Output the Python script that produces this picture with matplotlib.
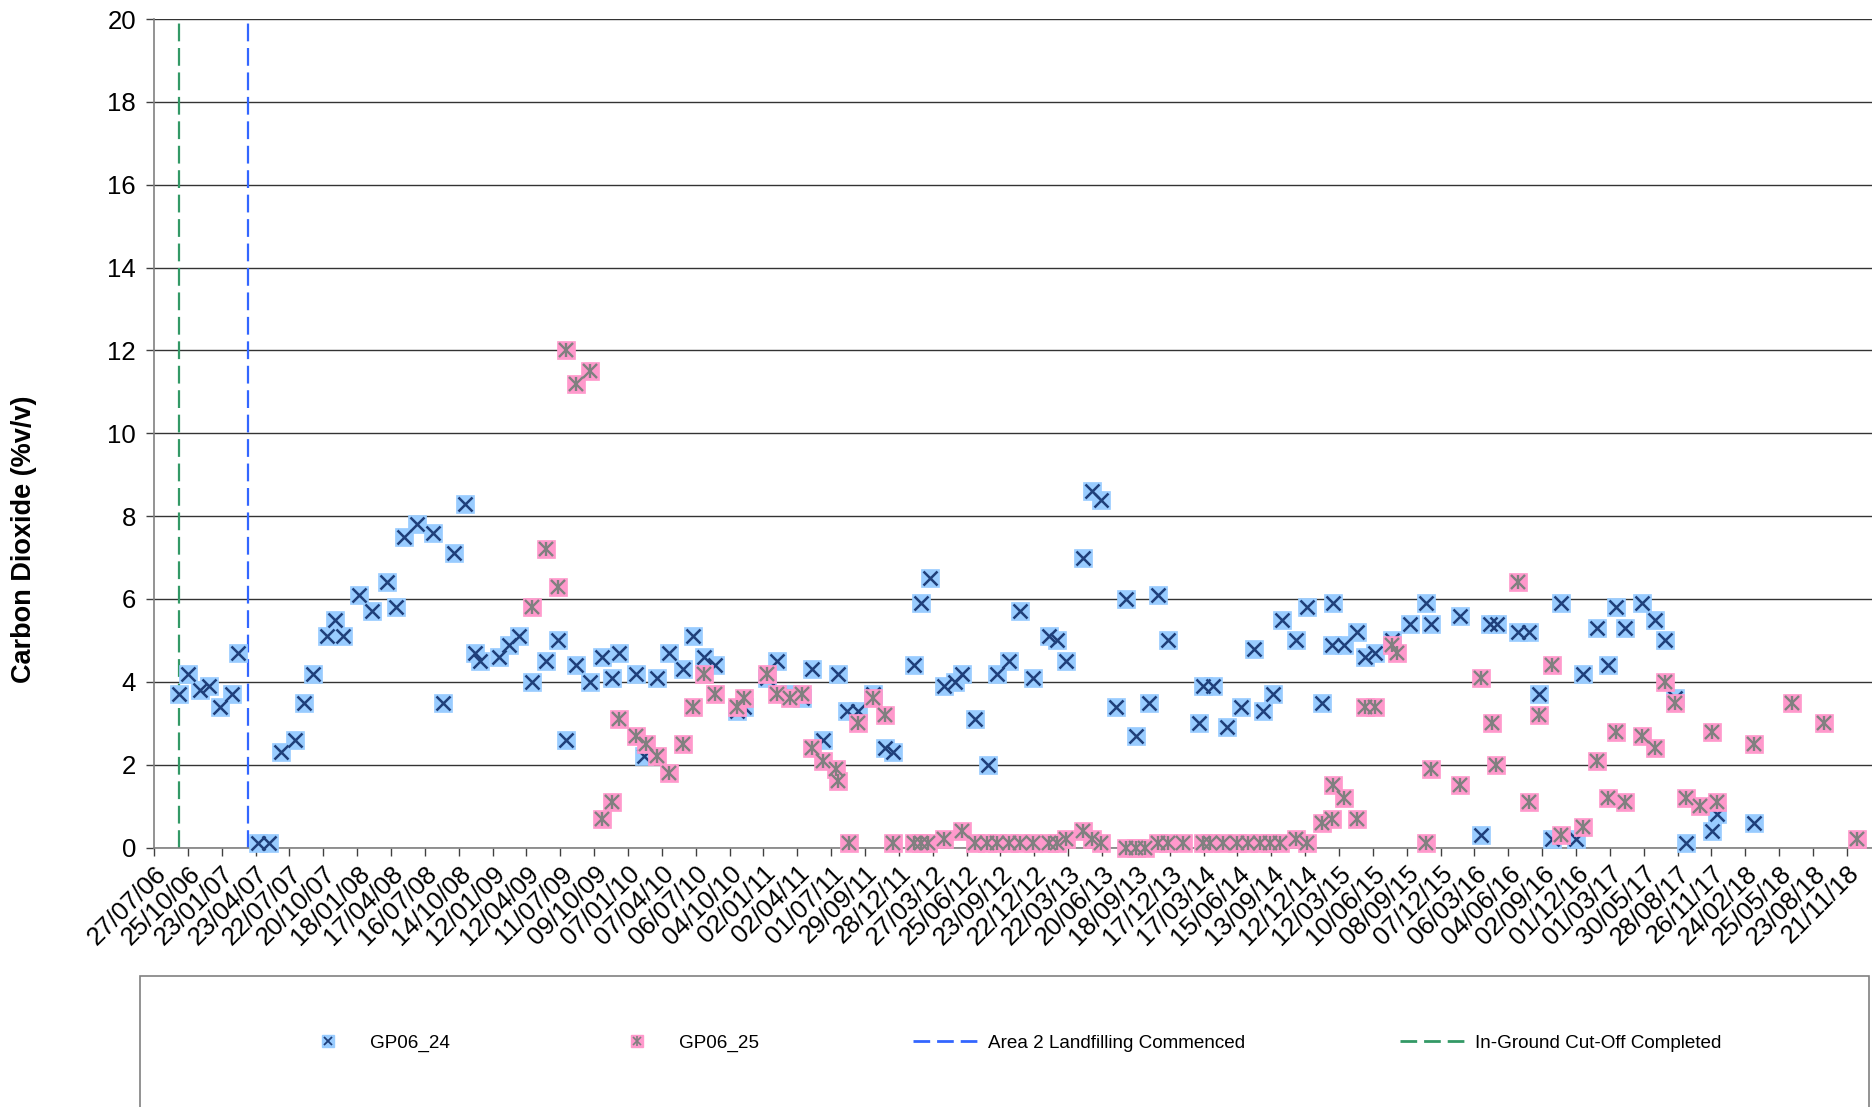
import pandas as pd
import matplotlib
matplotlib.use("Agg")
import matplotlib.pyplot as plt
import matplotlib.dates as mdates
from matplotlib.lines import Line2D
from matplotlib.patches import Rectangle

plt.rcParams['font.family'] = ['Liberation Sans', 'DejaVu Sans']

# sampling dates are given as days after 27/07/06 (first axis label)
START = pd.Timestamp('2006-07-27')

gp24_day = [65, 89, 122, 145, 175, 207, 224, 277, 306, 337, 375, 399, 423, 459, 481,
            503, 545, 580, 620, 642, 665, 698, 742, 769, 797, 826, 853, 866, 918, 943,
            971, 1006, 1041, 1075, 1096, 1121, 1159, 1190, 1217, 1236, 1282, 1303, 1336,
            1370, 1406, 1434, 1463, 1492, 1549, 1567, 1629, 1657, 1691, 1722, 1748, 1779,
            1817, 1843, 1872, 1910, 1943, 1965, 2020, 2038, 2063, 2100, 2129, 2147, 2182,
            2218, 2242, 2273, 2302, 2336, 2379, 2400, 2424, 2469, 2493, 2517, 2556, 2584,
            2610, 2646, 2668, 2695, 2778, 2789, 2814, 2853, 2890, 2925, 2947, 2974, 2998,
            3037, 3064, 3106, 3132, 3135, 3163, 3197, 3219, 3247, 3290, 3339, 3382, 3394,
            3472, 3527, 3552, 3571, 3625, 3656, 3682, 3716, 3740, 3780, 3800, 3835, 3865,
            3886, 3911, 3956, 3990, 4017, 4044, 4073, 4141, 4156, 4254]
gp24_co2 = [3.7, 4.2, 3.8, 3.9, 3.4, 3.7, 4.7, 0.1, 0.1, 2.3, 2.6, 3.5, 4.2, 5.1, 5.5,
            5.1, 6.1, 5.7, 6.4, 5.8, 7.5, 7.8, 7.6, 3.5, 7.1, 8.3, 4.7, 4.5, 4.6, 4.9,
            5.1, 4.0, 4.5, 5.0, 2.6, 4.4, 4.0, 4.6, 4.1, 4.7, 4.2, 2.2, 4.1,
            4.7, 4.3, 5.1, 4.6, 4.4, 3.3, 3.4, 4.1, 4.5, 3.7, 3.6, 4.3, 2.6,
            4.2, 3.3, 3.3, 3.7, 2.4, 2.3, 4.4, 5.9, 6.5, 3.9, 4.0, 4.2, 3.1,
            2.0, 4.2, 4.5, 5.7, 4.1, 5.1, 5.0, 4.5, 7.0, 8.6, 8.4, 3.4, 6.0,
            2.7, 3.5, 6.1, 5.0, 3.0, 3.9, 3.9, 2.9, 3.4, 4.8, 3.3, 3.7, 5.5,
            5.0, 5.8, 3.5, 4.9, 5.9, 4.9, 5.2, 4.6, 4.7, 5.0, 5.4, 5.9, 5.4,
            5.6, 0.3, 5.4, 5.4, 5.2, 5.2, 3.7, 0.2, 5.9, 0.2, 4.2, 5.3, 4.4,
            5.8, 5.3, 5.9, 5.5, 5.0, 3.6, 0.1, 0.4, 0.8, 0.6]

gp25_day = [1006, 1041, 1075, 1096, 1121, 1159, 1190, 1217, 1236, 1282, 1308, 1336, 1370,
            1406, 1434, 1463, 1492, 1549, 1567, 1629, 1657, 1691, 1722, 1748, 1779, 1812,
            1817, 1848, 1872, 1910, 1943, 1965, 2020, 2038, 2058, 2100, 2147, 2182, 2213,
            2242, 2273, 2302, 2336, 2379, 2400, 2424, 2469, 2493, 2517, 2584, 2610, 2634,
            2668, 2695, 2735, 2789, 2807, 2843, 2878, 2909, 2940, 2967, 2993, 3037, 3064,
            3106, 3132, 3135, 3163, 3197, 3219, 3247, 3290, 3305, 3382, 3394, 3472, 3527,
            3556, 3568, 3625, 3656, 3682, 3716, 3740, 3800, 3835, 3865, 3886, 3911, 3956,
            3990, 4017, 4044, 4073, 4110, 4141, 4156, 4254, 4354, 4440, 4528]
gp25_co2 = [5.8, 7.2, 6.3, 12.0, 11.2, 11.5, 0.7, 1.1, 3.1, 2.7, 2.5, 2.2, 1.8,
            2.5, 3.4, 4.2, 3.7, 3.4, 3.6, 4.2, 3.7, 3.6, 3.7, 2.4, 2.1, 1.9,
            1.6, 0.1, 3.0, 3.6, 3.2, 0.1, 0.1, 0.1, 0.1, 0.2, 0.4, 0.1, 0.1,
            0.1, 0.1, 0.1, 0.1, 0.1, 0.1, 0.2, 0.4, 0.2, 0.1, 0.0, 0.0, 0.0,
            0.1, 0.1, 0.1, 0.1, 0.1, 0.1, 0.1, 0.1, 0.1, 0.1, 0.1, 0.2, 0.1,
            0.6, 0.7, 1.5, 1.2, 0.7, 3.4, 3.4, 4.9, 4.7, 0.1, 1.9, 1.5, 4.1,
            3.0, 2.0, 6.4, 1.1, 3.2, 4.4, 0.3, 0.5, 2.1, 1.2, 2.8, 1.1, 2.7,
            2.4, 4.0, 3.5, 1.2, 1.0, 2.8, 1.1, 2.5, 3.5, 3.0, 0.2]

cutoff_date = pd.Timestamp('2006-10-01')
landfill_date = pd.Timestamp('2007-04-02')

tick_dates = pd.date_range(START, periods=51, freq='90D')

d24 = START + pd.to_timedelta(gp24_day, unit='D')
d25 = START + pd.to_timedelta(gp25_day, unit='D')

fig = plt.figure(figsize=(18.72, 11.07), dpi=100)
ax = fig.add_axes([0.0823, 0.2344, 0.9177, 0.7484])

blue_fill, blue_mark = '#99CCFF', '#1F3F7A'
pink_fill, pink_mark = '#FF99CC', '#808080'

ax.plot(d24, gp24_co2, ls='none', marker='s', ms=12.5, mfc=blue_fill, mec=blue_fill,
        mew=0.5, clip_on=False, zorder=3)
ax.plot(d24, gp24_co2, ls='none', marker='x', ms=9.5, mew=1.8, color=blue_mark,
        clip_on=False, zorder=3)
ax.plot(d25, gp25_co2, ls='none', marker='s', ms=12.5, mfc=pink_fill, mec=pink_fill,
        mew=0.5, clip_on=False, zorder=4)
ax.plot(d25, gp25_co2, ls='none', marker='x', ms=9.5, mew=1.7, color=pink_mark,
        clip_on=False, zorder=4)
ax.plot(d25, gp25_co2, ls='none', marker='|', ms=10.5, mew=1.7, color=pink_mark,
        clip_on=False, zorder=4)

ax.axvline(cutoff_date, color='#339966', lw=1.6, dashes=(8, 3), zorder=2)
ax.axvline(landfill_date, color='#3366FF', lw=1.6, dashes=(8, 3), zorder=2)

ax.set_xlim(START, START + pd.Timedelta(days=4567))
ax.set_ylim(0, 20)
ax.set_yticks(range(0, 21, 2))
ax.set_xticks(tick_dates)
ax.xaxis.set_major_formatter(mdates.DateFormatter('%d/%m/%y'))
ax.grid(axis='y', color='#333333', lw=1.0)
ax.set_axisbelow(True)

for s in ['top', 'right']:
    ax.spines[s].set_visible(False)
for s in ['left', 'bottom']:
    ax.spines[s].set_color('#808080')
    ax.spines[s].set_linewidth(1.2)

ax.tick_params(axis='y', length=6, width=1, color='#404040', pad=7, labelsize=18.5)
ax.tick_params(axis='x', length=6, width=1, color='#404040', pad=4, labelsize=18.5)
for lab in ax.get_xticklabels():
    lab.set_rotation(45)
    lab.set_ha('right')
    lab.set_va('top')
    lab.set_rotation_mode('anchor')

fig.text(24 / 1872, 1 - 539 / 1107, 'Carbon Dioxide (%v/v)', rotation=90,
         fontsize=19.5, fontweight='bold', ha='center', va='center')

# legend box along the bottom
fig.patches.append(Rectangle((140 / 1872, -0.05), 1729 / 1872, 0.05 + 1 - 976 / 1107,
                             transform=fig.transFigure, fill=False, ec='#808080', lw=1.2))

h24 = (Line2D([], [], ls='none', marker='s', ms=8, mfc=blue_fill, mec=blue_fill),
       Line2D([], [], ls='none', marker='x', ms=6, mew=1.3, color=blue_mark))
h25 = (Line2D([], [], ls='none', marker='s', ms=8, mfc=pink_fill, mec=pink_fill),
       Line2D([], [], ls='none', marker='x', ms=6, mew=1.2, color=pink_mark),
       Line2D([], [], ls='none', marker='|', ms=6.5, mew=1.2, color=pink_mark))
hl = Line2D([], [], color='#3366FF', lw=2, dashes=(6, 2.5))
hg = Line2D([], [], color='#339966', lw=2, dashes=(6, 2.5))
fig.legend([h24, h25, hl, hg],
           ['GP06_24', 'GP06_25', 'Area 2 Landfilling Commenced', 'In-Ground Cut-Off Completed'],
           loc='center left', bbox_to_anchor=(294 / 1872, 1 - 1043 / 1107), ncol=4,
           frameon=False, fontsize=13.6, handlelength=3.6, handletextpad=0.4,
           columnspacing=8.15, borderpad=0, borderaxespad=0)

fig.savefig('out.png', dpi=100)
